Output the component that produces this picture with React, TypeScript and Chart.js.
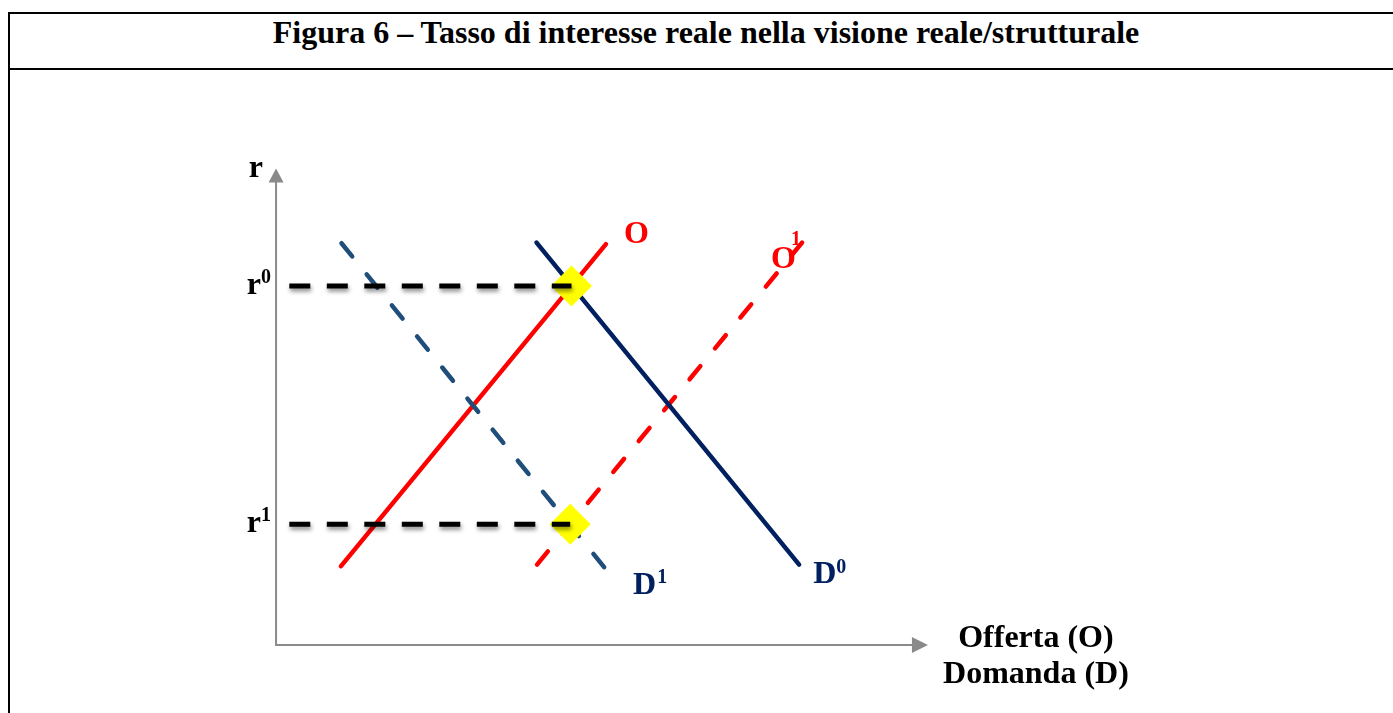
import React, { useEffect, useRef } from 'react';
import { Chart, registerables } from 'chart.js';

Chart.register(...registerables);

const TITLE = 'Figura 6 – Tasso di interesse reale nella visione reale/strutturale';

// Curves in (quantity, rate) units
const supplyO = [{ x: 2.45, y: 2.45 }, { x: 12.45, y: 12.45 }];
const supplyO1 = [{ x: 9.85, y: 2.5 }, { x: 19.85, y: 12.5 }];
const demandD0 = [{ x: 9.83, y: 12.5 }, { x: 19.74, y: 2.5 }];
const demandD1 = [{ x: 12.38, y: 2.42 }, { x: 2.45, y: 12.5 }];

// Equilibrium points: (q0, r0) and (q1, r1)
const equilibria = [{ x: 11.15, y: 11.15 }, { x: 11.1, y: 3.75 }];
const rateLabels = ['0', '1'];
const guideStart = 0.5;

// Axis extents and visible window
const axisEnd = { x: 24.6, y: 14.8 };
const xRange = { min: -10.04, max: 42.49 };
const yRange = { min: -2.11, max: 17.86 };

const RED = '#FF0000';
const NAVY = '#002060';
const STEEL = '#1F4E7A';
const GREY = '#8A8A8A';
const SERIF = '"Liberation Serif", "Times New Roman", serif';
const MAIN_FONT = `bold 32px ${SERIF}`;
const SUP_FONT = `bold 20px ${SERIF}`;

function drawSup(
  ctx: CanvasRenderingContext2D,
  base: string,
  sup: string,
  x: number,
  y: number,
  color: string,
  align: 'left' | 'right',
  supDx: number,
  supDy: number
) {
  ctx.save();
  ctx.fillStyle = color;
  ctx.textAlign = 'left';
  ctx.textBaseline = 'alphabetic';
  ctx.font = MAIN_FONT;
  const w = ctx.measureText(base).width;
  ctx.font = SUP_FONT;
  const ws = sup ? ctx.measureText(sup).width : 0;
  const x0 = align === 'right' ? x - (w + (sup ? supDx : 0) + ws) : x;
  ctx.font = MAIN_FONT;
  ctx.fillText(base, x0, y);
  if (sup) {
    ctx.font = SUP_FONT;
    ctx.fillText(sup, x0 + w + supDx, y + supDy);
  }
  ctx.restore();
}

const axesPlugin = {
  id: 'axesArrows',
  beforeDatasetsDraw(chart: any) {
    const { ctx, scales } = chart;
    const ox = scales.x.getPixelForValue(0);
    const oy = scales.y.getPixelForValue(0);
    const tx = scales.x.getPixelForValue(axisEnd.x);
    const ty = scales.y.getPixelForValue(axisEnd.y);
    ctx.save();
    ctx.strokeStyle = GREY;
    ctx.fillStyle = GREY;
    ctx.lineWidth = 2;
    ctx.beginPath();
    ctx.moveTo(ox, ty + 12);
    ctx.lineTo(ox, oy);
    ctx.lineTo(tx - 12, oy);
    ctx.stroke();
    ctx.beginPath();
    ctx.moveTo(ox, ty);
    ctx.lineTo(ox - 7.5, ty + 14);
    ctx.lineTo(ox + 7.5, ty + 14);
    ctx.closePath();
    ctx.fill();
    ctx.beginPath();
    ctx.moveTo(tx, oy);
    ctx.lineTo(tx - 16, oy - 8);
    ctx.lineTo(tx - 16, oy + 8);
    ctx.closePath();
    ctx.fill();
    ctx.restore();
  },
};

const labelsPlugin = {
  id: 'curveLabels',
  afterDatasetsDraw(chart: any) {
    const { ctx, scales } = chart;
    const X = (v: number) => scales.x.getPixelForValue(v);
    const Y = (v: number) => scales.y.getPixelForValue(v);
    const ox = X(0);

    // rate axis
    drawSup(ctx, 'r', '', ox - 13, Y(axisEnd.y) + 8, '#000', 'right', 0, 0);
    equilibria.forEach((e, i) => {
      drawSup(ctx, 'r', rateLabels[i], ox - 5, Y(e.y) + 7.5, '#000', 'right', 0, -11);
    });

    // curve names
    drawSup(ctx, 'O', '', X(supplyO[1].x) + 18, Y(supplyO[1].y) - 1, RED, 'left', 0, 0);
    drawSup(ctx, 'O', '1', X(supplyO1[1].x) - 31, Y(supplyO1[1].y) + 25, RED, 'left', -5, -23);
    drawSup(ctx, 'D', '1', X(demandD1[0].x) + 29, Y(demandD1[0].y) + 27, NAVY, 'left', 1, -11);
    drawSup(ctx, 'D', '0', X(demandD0[1].x) + 14, Y(demandD0[1].y) + 18, NAVY, 'left', 0, -10);

    // quantity axis
    const tx = X(axisEnd.x);
    const oy = Y(0);
    ctx.save();
    ctx.fillStyle = '#000';
    ctx.font = MAIN_FONT;
    ctx.textAlign = 'center';
    ctx.textBaseline = 'alphabetic';
    ctx.fillText('Offerta (O)', tx + 108, oy + 2);
    ctx.fillText('Domanda (D)', tx + 108, oy + 38);
    ctx.restore();
  },
};

const shadowPlugin = {
  id: 'guideShadow',
  beforeDatasetDraw(chart: any, args: any) {
    const ds = chart.data.datasets[args.index];
    if (ds.shadow) {
      const ctx = chart.ctx;
      ctx.save();
      ctx.shadowColor = 'rgba(0,0,0,0.45)';
      ctx.shadowBlur = 4;
      ctx.shadowOffsetX = 1;
      ctx.shadowOffsetY = 3;
    }
  },
  afterDatasetDraw(chart: any, args: any) {
    const ds = chart.data.datasets[args.index];
    if (ds.shadow) chart.ctx.restore();
  },
};

export default function App() {
  const canvasRef = useRef<HTMLCanvasElement | null>(null);

  useEffect(() => {
    if (!canvasRef.current) return;
    const lineBase = {
      showLine: true,
      pointRadius: 0,
      pointHoverRadius: 0,
      borderWidth: 4.5,
      borderCapStyle: 'round',
      clip: false,
      fill: false,
    };
    const guides = equilibria.map((e) => ({
      ...lineBase,
      data: [{ x: guideStart, y: e.y }, { x: e.x, y: e.y }],
      borderColor: '#000',
      borderWidth: 5,
      borderCapStyle: 'butt',
      borderDash: [21, 16.5],
      shadow: true,
    }));
    const chart = new Chart(canvasRef.current, {
      type: 'scatter',
      data: {
        datasets: [
          ...guides,
          {
            data: equilibria,
            showLine: false,
            pointStyle: 'rectRot',
            pointRadius: 20.5,
            pointHoverRadius: 20.5,
            pointBackgroundColor: '#FFFF00',
            pointBorderWidth: 0,
            borderWidth: 0,
            clip: false,
          },
          { ...lineBase, data: demandD1, borderColor: STEEL, borderDash: [17, 23] },
          { ...lineBase, data: demandD0, borderColor: NAVY },
          { ...lineBase, data: supplyO1, borderColor: RED, borderDash: [17, 23] },
          { ...lineBase, data: supplyO, borderColor: RED },
        ] as any,
      },
      options: {
        responsive: false,
        maintainAspectRatio: false,
        animation: false,
        events: [],
        layout: { padding: 0, autoPadding: false },
        plugins: { legend: { display: false }, tooltip: { enabled: false }, title: { display: false } },
        scales: {
          x: { type: 'linear', min: xRange.min, max: xRange.max, display: false },
          y: { type: 'linear', min: yRange.min, max: yRange.max, display: false },
        },
      },
      plugins: [axesPlugin, shadowPlugin, labelsPlugin],
    });
    return () => chart.destroy();
  }, []);

  return (
    <div style={{ position: 'fixed', inset: 0, overflow: 'hidden', background: '#fff' }}>
      <div
        style={{
          position: 'absolute',
          left: 8,
          top: 12,
          width: 1392,
          height: 760,
          border: '2px solid #000',
          boxSizing: 'content-box',
        }}
      >
        <div
          style={{
            height: 56,
            boxSizing: 'border-box',
            borderBottom: '2px solid #000',
            paddingTop: 2,
            textAlign: 'center',
            font: `bold 32px ${SERIF}`,
            lineHeight: '32px',
            color: '#000',
            whiteSpace: 'nowrap',
          }}
        >
          {TITLE}
        </div>
        <canvas ref={canvasRef} width={1392} height={643} style={{ display: 'block', width: 1392, height: 643 }} />
      </div>
    </div>
  );
}
